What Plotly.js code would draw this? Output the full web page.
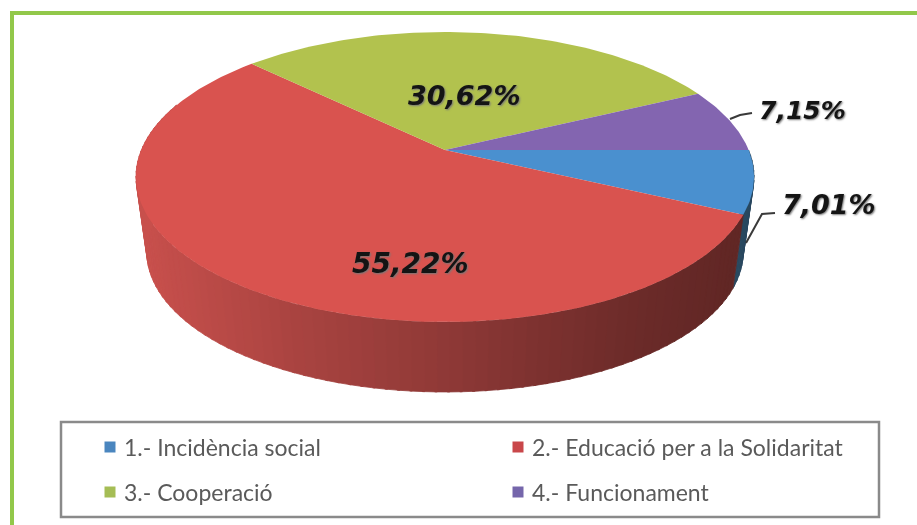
<!DOCTYPE html>
<html>
<head>
<meta charset="utf-8">
<script src="https://cdn.plot.ly/plotly-3.0.1.min.js"></script>
<style>html,body{margin:0;padding:0;background:#fff}#plot{width:917px;height:525px;filter:blur(0.5px)}</style>
</head>
<body>
<div id="plot"></div>
<script>
const categories = ['1.- Incidència social', '2.- Educació per a la Solidaritat', '3.- Cooperació', '4.- Funcionament'];
const values = [7.01, 55.22, 30.62, 7.15];
const topColors = ['#4a90cf', '#d9534f', '#b2c24e', '#8365b0'];
const wallColors = ['#4a7fa8', '#a84340', '#7f8d39', '#5c4680'];
const legendColors = ['#4a86bf', '#c9474a', '#a5bd55', '#7566ab'];
const shadeX = [140, 300, 445, 550, 650, 750];
const shadeF = [1.19, 1, 0.85, 0.73, 0.63, 0.57];

// Perspective pie geometry (pixel-scaled hidden axes)
const W = 917, H = 525;
const APEX = [445, 150], A = 303.6, B = 140, K = -0.186, START = 90;
const WALL_SCALE = 0.965, WALL_DEPTH = 76;
function rim(deg, scale, drop) {
  const t = deg * Math.PI / 180, sx = Math.sin(t), sy = -Math.cos(t), d = 1 + K * sy;
  return [APEX[0] + scale * A * sx / d, APEX[1] + scale * B * sy / d + drop];
}
function scaled(hex, f) {
  const n = parseInt(hex.slice(1), 16);
  return 'rgb(' + [n >> 16, (n >> 8) & 255, n & 255].map(c => Math.min(255, Math.round(c * f))).join(',') + ')';
}
function shadeAt(x) {
  if (x <= shadeX[0]) return shadeF[0];
  for (let i = 1; i < shadeX.length; i++) {
    if (x <= shadeX[i]) {
      const f = (x - shadeX[i - 1]) / (shadeX[i] - shadeX[i - 1]);
      return shadeF[i - 1] + f * (shadeF[i] - shadeF[i - 1]);
    }
  }
  return shadeF[shadeF.length - 1];
}
const total = values.reduce((a, b) => a + b, 0);
const traces = [];
const spans = [];
let cum = START;
values.forEach((v, i) => { const end = cum + v / total * 360; spans.push([cum, end, i]); cum = end; });

// side wall, drawn as thin quads shaded by horizontal position
function addWall(from, to, colorIdx) {
  for (let a = from; a < to; a += 2) {
    const b = Math.min(a + 2.4, to);
    const p = [rim(a, 1, 0), rim(b, 1, 0), rim(b, WALL_SCALE, WALL_DEPTH), rim(a, WALL_SCALE, WALL_DEPTH), rim(a, 1, 0)];
    const c = scaled(wallColors[colorIdx], shadeAt((p[0][0] + p[1][0]) / 2));
    traces.push({ type: 'scatter', mode: 'lines', x: p.map(q => q[0]), y: p.map(q => q[1]), fill: 'toself',
      fillcolor: c, line: { width: 0.8, color: c }, hoverinfo: 'skip', showlegend: false });
  }
}
spans.forEach(([s, e, i]) => {
  const from = Math.max(s, 75), to = Math.min(e, 290);
  if (to > from) addWall(from, to, i);
});

// top surface of each slice
spans.forEach(([s, e, i]) => {
  const xs = [APEX[0]], ys = [APEX[1]];
  for (let a = s; a <= e + 1e-6; a += 1) { const q = rim(a, 1, 0); xs.push(q[0]); ys.push(q[1]); }
  const q = rim(e, 1, 0); xs.push(q[0], APEX[0]); ys.push(q[1], APEX[1]);
  traces.push({ type: 'scatter', mode: 'lines', x: xs, y: ys, fill: 'toself', fillcolor: topColors[i],
    line: { width: 0 }, name: categories[i], hoverinfo: 'name', showlegend: false });
});

// leader lines
traces.push({ type: 'scatter', mode: 'lines', x: [730, 740, 752], y: [119, 115, 113], line: { color: '#3a3a3a', width: 2 }, hoverinfo: 'skip', showlegend: false });
traces.push({ type: 'scatter', mode: 'lines', x: [746, 762, 775], y: [243, 214, 213], line: { color: '#3a3a3a', width: 2 }, hoverinfo: 'skip', showlegend: false });

// legend swatches
const legendX = [110, 518, 110, 518], legendY = [447, 447, 492, 492];
categories.forEach((c, i) => traces.push({ type: 'scatter', mode: 'markers', x: [legendX[i]], y: [legendY[i]],
  marker: { symbol: 'square', size: 11, color: legendColors[i] }, hoverinfo: 'skip', showlegend: false }));

const fmt = v => v.toFixed(2).replace('.', ',') + '%';
const labelX = [829, 410, 464, 802], labelY = [204, 263, 95, 110], labelSize = [27, 28, 27, 25];
const annotations = values.map((v, i) => ({ x: labelX[i], y: labelY[i], xref: 'x', yref: 'y', text: '<b><i>' + fmt(v) + '</i></b>', showarrow: false,
  font: { family: 'DejaVu Sans, sans-serif', size: labelSize[i], color: '#141414', shadow: '1px 1px 2px #777' } }));
categories.forEach((c, i) => annotations.push({ x: legendX[i] + 12, y: legendY[i], xref: 'x', yref: 'y', xanchor: 'left', text: c, showarrow: false,
  font: { family: 'Lato, sans-serif', size: 23, color: '#5a5a5a' } }));

const layout = {
  width: W, height: H, margin: { l: 0, r: 0, t: 0, b: 0 }, paper_bgcolor: '#fff', plot_bgcolor: '#fff', showlegend: false,
  xaxis: { range: [0, W], visible: false, fixedrange: true },
  yaxis: { range: [H, 0], visible: false, fixedrange: true },
  annotations,
  shapes: [
    { type: 'line', layer: 'below', xref: 'x', yref: 'y', x0: 12, x1: 917, y0: 13, y1: 13, line: { color: '#92c84a', width: 4 } },
    { type: 'line', layer: 'below', xref: 'x', yref: 'y', x0: 12, x1: 12, y0: 11, y1: 525, line: { color: '#92c84a', width: 4 } },
    { type: 'rect', layer: 'below', xref: 'x', yref: 'y', x0: 61, x1: 879, y0: 422, y1: 517, line: { color: '#8a8a8a', width: 2.5 } }
  ]
};
Plotly.newPlot('plot', traces, layout, { displayModeBar: false });
</script>
</body>
</html>
